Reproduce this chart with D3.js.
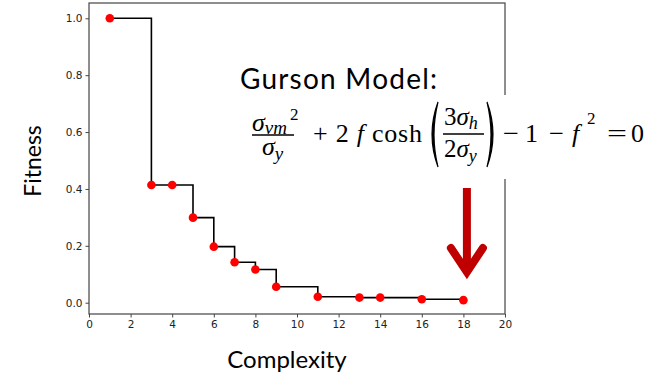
<!DOCTYPE html>
<html>
<head>
<meta charset="utf-8">
<script src="https://cdn.jsdelivr.net/npm/d3@7"></script>
<style>
  body { margin: 0; background: #fff; }
  svg { display: block; }
</style>
</head>
<body>
<script>
// pareto front: complexity vs fitness
var complexity = [1, 3, 4, 5, 6, 7, 8, 9, 11, 13, 14, 16, 18];
var fitness = [1.0, 0.414, 0.414, 0.299, 0.197, 0.142, 0.117, 0.056, 0.021, 0.018, 0.018, 0.012, 0.009];
var xTicks = [0, 2, 4, 6, 8, 10, 12, 14, 16, 18, 20];
var yTicks = [0.0, 0.2, 0.4, 0.6, 0.8, 1.0];

var width = 650, height = 380;
var plot = {left: 89, right: 505, top: 3, bottom: 314};

var svg = d3.select('body').append('svg')
  .attr('width', width)
  .attr('height', height);

var x = d3.scaleLinear().domain([0, 20]).range([plot.left, plot.right]);
var y = d3.scaleLinear().domain([0, 1]).range([302.7, 18.3]);

var data = complexity.map(function(c, i) { return {x: c, y: fitness[i]}; });

// axes
var xAxis = d3.axisBottom(x).tickValues(xTicks).tickSize(3.5).tickPadding(3)
  .tickFormat(d3.format('d'));
var yAxis = d3.axisLeft(y).tickValues(yTicks).tickSize(3.5).tickPadding(3)
  .tickFormat(d3.format('.1f'));

var gx = svg.append('g').attr('transform', 'translate(0,' + plot.bottom + ')').call(xAxis);
var gy = svg.append('g').attr('transform', 'translate(' + plot.left + ',0)').call(yAxis);
[gx, gy].forEach(function(g) {
  g.select('.domain').remove();
  g.selectAll('line').attr('stroke', '#444');
  g.selectAll('text')
    .style('font-family', 'DejaVu Sans, sans-serif')
    .style('font-size', '10.5px')
    .attr('fill', '#222');
});

// frame
svg.append('rect')
  .attr('x', plot.left).attr('y', plot.top)
  .attr('width', plot.right - plot.left)
  .attr('height', plot.bottom - plot.top)
  .attr('fill', 'none')
  .attr('stroke', '#444')
  .attr('stroke-width', 1.2);

// step line
var line = d3.line()
  .x(function(d) { return x(d.x); })
  .y(function(d) { return y(d.y); })
  .curve(d3.curveStepAfter);

svg.append('path')
  .datum(data)
  .attr('d', line)
  .attr('fill', 'none')
  .attr('stroke', '#000')
  .attr('stroke-width', 1.6);

svg.selectAll('circle.pt')
  .data(data)
  .enter()
  .append('circle')
    .attr('class', 'pt')
    .attr('cx', function(d) { return x(d.x); })
    .attr('cy', function(d) { return y(d.y); })
    .attr('r', 4.3)
    .style('fill', '#ff0000');

// axis labels
svg.append('text')
  .attr('transform', 'translate(41,161) rotate(-90)')
  .attr('text-anchor', 'middle')
  .style('font-family', 'Lato, Open Sans, sans-serif')
  .style('font-size', '23px')
  .text('Fitness');

svg.append('text')
  .attr('x', 287).attr('y', 368)
  .attr('text-anchor', 'middle')
  .style('font-family', 'Lato, Open Sans, sans-serif')
  .style('font-size', '24px')
  .text('Complexity');

// annotation
svg.append('text')
  .attr('x', 240).attr('y', 89)
  .attr('textLength', 197)
  .style('font-family', 'Lato, Open Sans, sans-serif')
  .style('font-size', '28px')
  .text('Gurson Model:');

svg.append('rect')
  .attr('x', 246).attr('y', 95)
  .attr('width', 404).attr('height', 84)
  .attr('fill', '#fff');

var eq = svg.append('g');
var serif = 'Liberation Serif, DejaVu Serif, serif';

// write one piece of the formula; parts are tspans
function mathText(px, py, parts, size) {
  var t = eq.append('text').attr('x', px).attr('y', py)
    .style('font-family', serif)
    .style('font-size', (size || 26) + 'px');
  parts.forEach(function(p) {
    var s = t.append('tspan').text(p.t);
    if (p.it) s.style('font-style', 'italic');
    if (p.dy) s.attr('dy', p.dy);
    if (p.fs) s.style('font-size', p.fs + 'px');
    if (p.dx) s.attr('dx', p.dx);
  });
  return t;
}

function fracBar(x1, x2, yy) {
  eq.append('line').attr('x1', x1).attr('x2', x2).attr('y1', yy).attr('y2', yy)
    .attr('stroke', '#000').attr('stroke-width', 1.3);
}

// wide operator glyph (cambria-like)
function op(px, w, ch) {
  return mathText(px, 142, [{t: ch}])
    .attr('textLength', w).attr('lengthAdjust', 'spacingAndGlyphs');
}

// sigma_vm^2 / sigma_y
mathText(252, 131, [
  {t: 'σ', it: true},
  {t: 'vm', it: true, fs: 19, dy: 3},
  {t: '2', fs: 17, dy: -14, dx: 3}
]);
fracBar(252, 294, 135);
mathText(262, 155, [
  {t: 'σ', it: true},
  {t: 'y', it: true, fs: 19, dy: 5}
]);

// + 2 f cosh
mathText(313, 142, [
  {t: '+ 2 '},
  {t: 'f', it: true},
  {t: ' cosh'}
]).attr('textLength', 109).attr('lengthAdjust', 'spacing');

// big parentheses
eq.append('path')
  .attr('d', 'M438,102 Q426,134.5 438,167 Q430,134.5 438,102 Z')
  .attr('fill', '#000').attr('stroke', '#000').attr('stroke-width', 1.2);
eq.append('path')
  .attr('d', 'M487,102 Q499,134.5 487,167 Q495,134.5 487,102 Z')
  .attr('fill', '#000').attr('stroke', '#000').attr('stroke-width', 1.2);

// 3 sigma_h / 2 sigma_y
mathText(444, 125, [
  {t: '3'},
  {t: 'σ', it: true},
  {t: 'h', it: true, fs: 18, dy: 4}
], 25);
fracBar(443, 484, 134);
mathText(444, 157, [
  {t: '2'},
  {t: 'σ', it: true},
  {t: 'y', it: true, fs: 18, dy: 5}
], 25);

// - 1 - f^2 = 0
op(503, 16, '−');
mathText(525, 142, [{t: '1'}]);
op(549, 15, '−');
mathText(572, 142, [{t: 'f', it: true}]);
mathText(587, 124, [{t: '2'}], 17);
op(607, 20, '=');
mathText(631, 142, [{t: '0'}]);

// red arrow pointing at the chosen model
var arrowX = x(18) + 3.5;
svg.append('line')
  .attr('x1', arrowX).attr('x2', arrowX)
  .attr('y1', 188).attr('y2', 268)
  .attr('stroke', '#c00000').attr('stroke-width', 8);
svg.append('path')
  .attr('d', 'M' + (arrowX - 16) + ',248 L' + arrowX + ',272 L' + (arrowX + 16) + ',248')
  .attr('fill', 'none')
  .attr('stroke', '#c00000')
  .attr('stroke-width', 8)
  .attr('stroke-linecap', 'round')
  .attr('stroke-linejoin', 'miter');
</script>
</body>
</html>
